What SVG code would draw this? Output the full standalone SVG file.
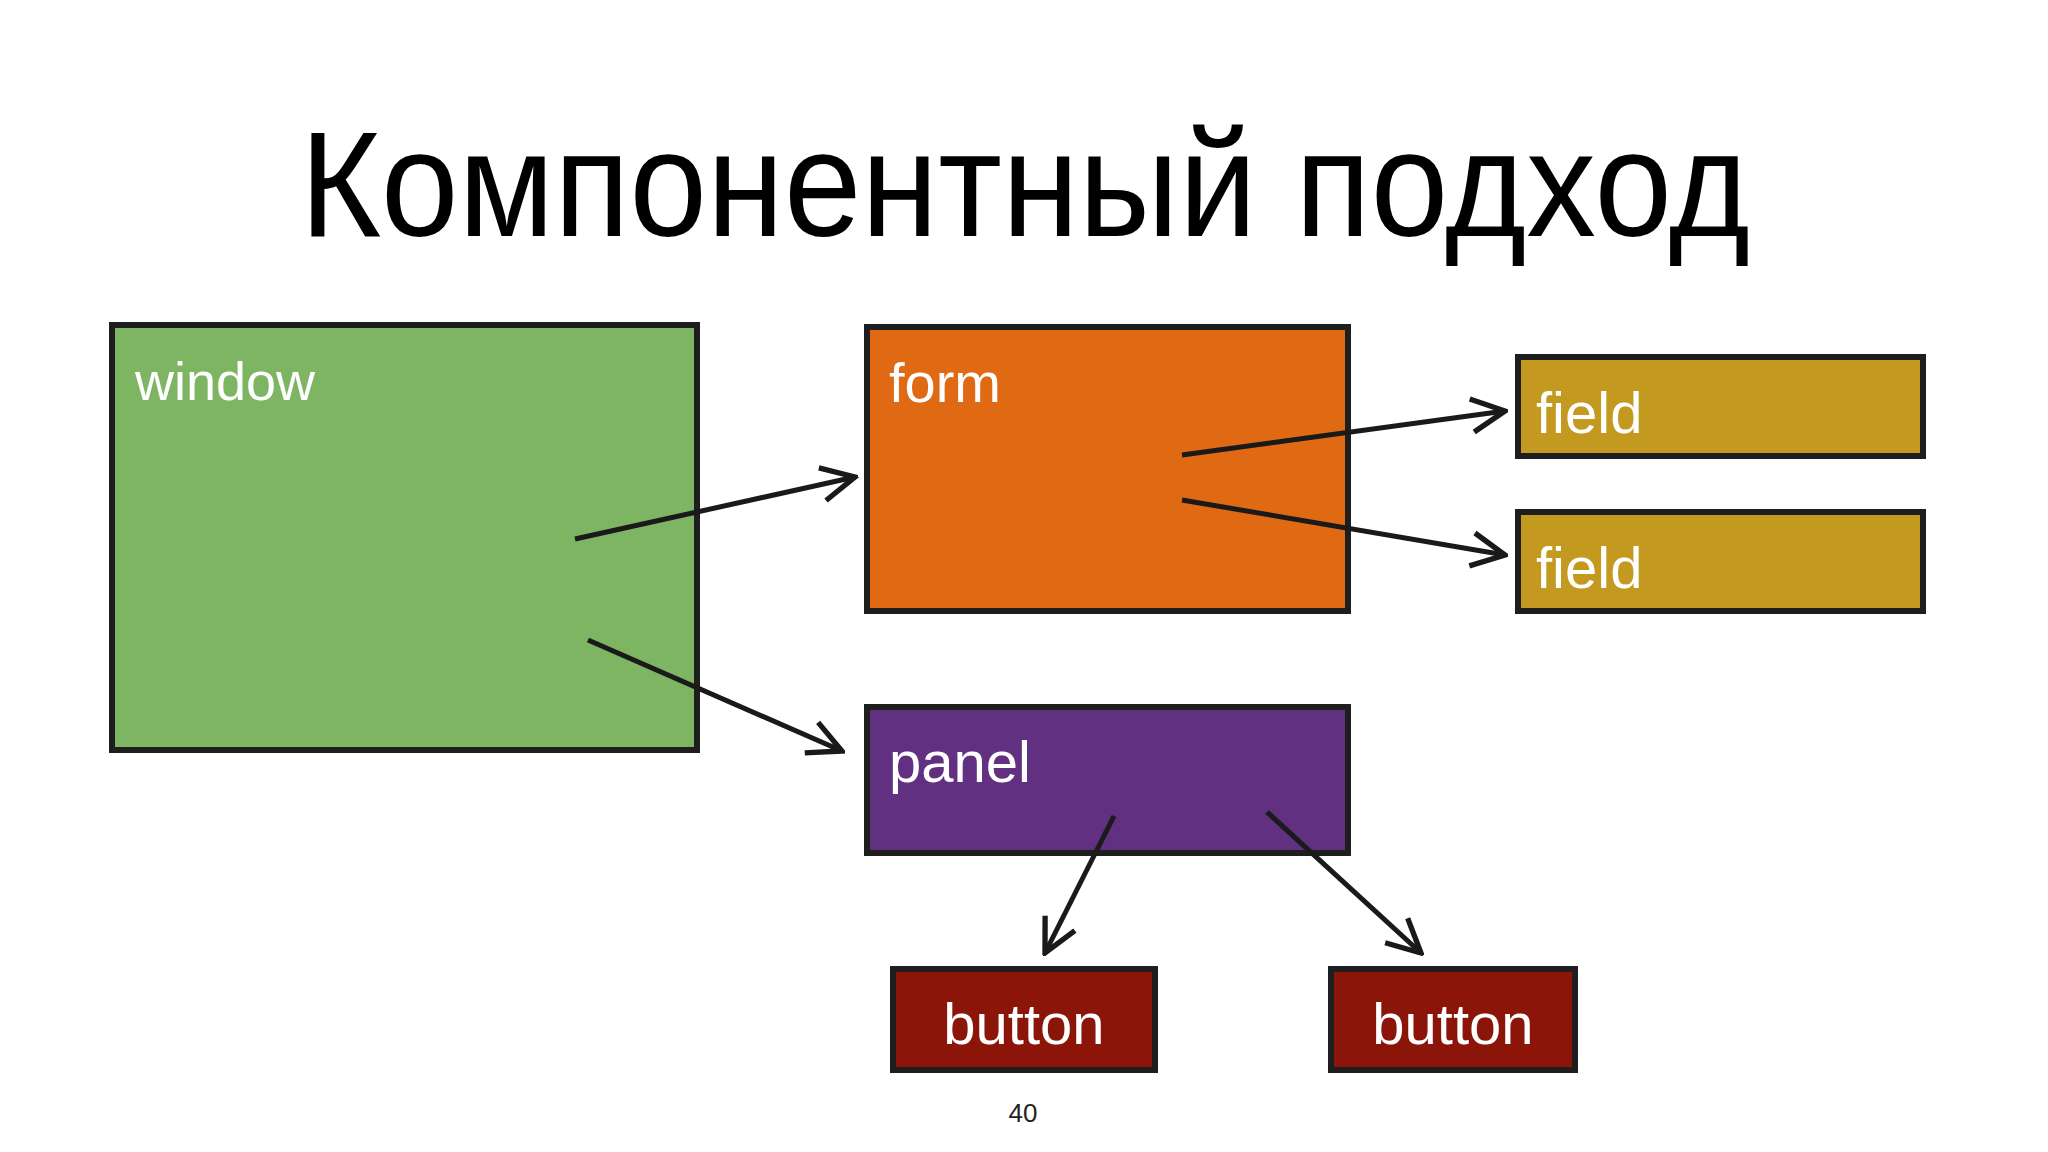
<svg xmlns="http://www.w3.org/2000/svg" width="2048" height="1152" viewBox="0 0 2048 1152">
<style>
.box{stroke:#1e1e1e;stroke-width:6}
.lbl{font-family:"Liberation Sans",Arial,sans-serif;fill:#fff}
.con{stroke:#1a1a1a;stroke-width:5;fill:none;marker-end:url(#ah)}
</style>
<defs>
<marker id="ah" viewBox="0 0 12 12" refX="11" refY="6" markerWidth="8" markerHeight="8" orient="auto" markerUnits="strokeWidth">
<path d="M1,1 L11,6 L1,11" fill="none" stroke="#1a1a1a" stroke-width="1.6"/>
</marker>
</defs>
<rect width="2048" height="1152" fill="#fff"/>
<text x="1025" y="236" text-anchor="middle" font-family="Liberation Sans,Arial,sans-serif" font-size="150" fill="#000" textLength="1450" lengthAdjust="spacingAndGlyphs">Компонентный подход</text>
<g id="window"><rect class="box" x="112" y="325" width="585" height="425" fill="#7db563"/><text class="lbl" x="135" y="400" font-size="54">window</text></g>
<g id="form"><rect class="box" x="867" y="327" width="481" height="284" fill="#e06a14"/><text class="lbl" x="889" y="402" font-size="56">form</text></g>
<g id="field1"><rect class="box" x="1518" y="357" width="405" height="99" fill="#c4991f"/><text class="lbl" x="1536" y="433" font-size="58">field</text></g>
<g id="field2"><rect class="box" x="1518" y="512" width="405" height="99" fill="#c4991f"/><text class="lbl" x="1536" y="588" font-size="58">field</text></g>
<g id="panel"><rect class="box" x="867" y="707" width="481" height="146" fill="#613080"/><text class="lbl" x="889" y="782" font-size="58">panel</text></g>
<g id="button1"><rect class="box" x="893" y="969" width="262" height="101" fill="#8a1508"/><text class="lbl" x="1024" y="1044" font-size="58" text-anchor="middle">button</text></g>
<g id="button2"><rect class="box" x="1331" y="969" width="244" height="101" fill="#8a1508"/><text class="lbl" x="1453" y="1044" font-size="58" text-anchor="middle">button</text></g>
<g id="connectors">
<line class="con" x1="575" y1="539" x2="855" y2="477"/>
<line class="con" x1="588" y1="640" x2="842" y2="751"/>
<line class="con" x1="1182" y1="455" x2="1505" y2="411"/>
<line class="con" x1="1182" y1="500" x2="1505" y2="555"/>
<line class="con" x1="1114" y1="816" x2="1045" y2="953"/>
<line class="con" x1="1267" y1="812" x2="1421" y2="953"/>
</g>
<text x="1023" y="1122" text-anchor="middle" font-family="Liberation Sans,Arial,sans-serif" font-size="26" fill="#222">40</text>
</svg>
